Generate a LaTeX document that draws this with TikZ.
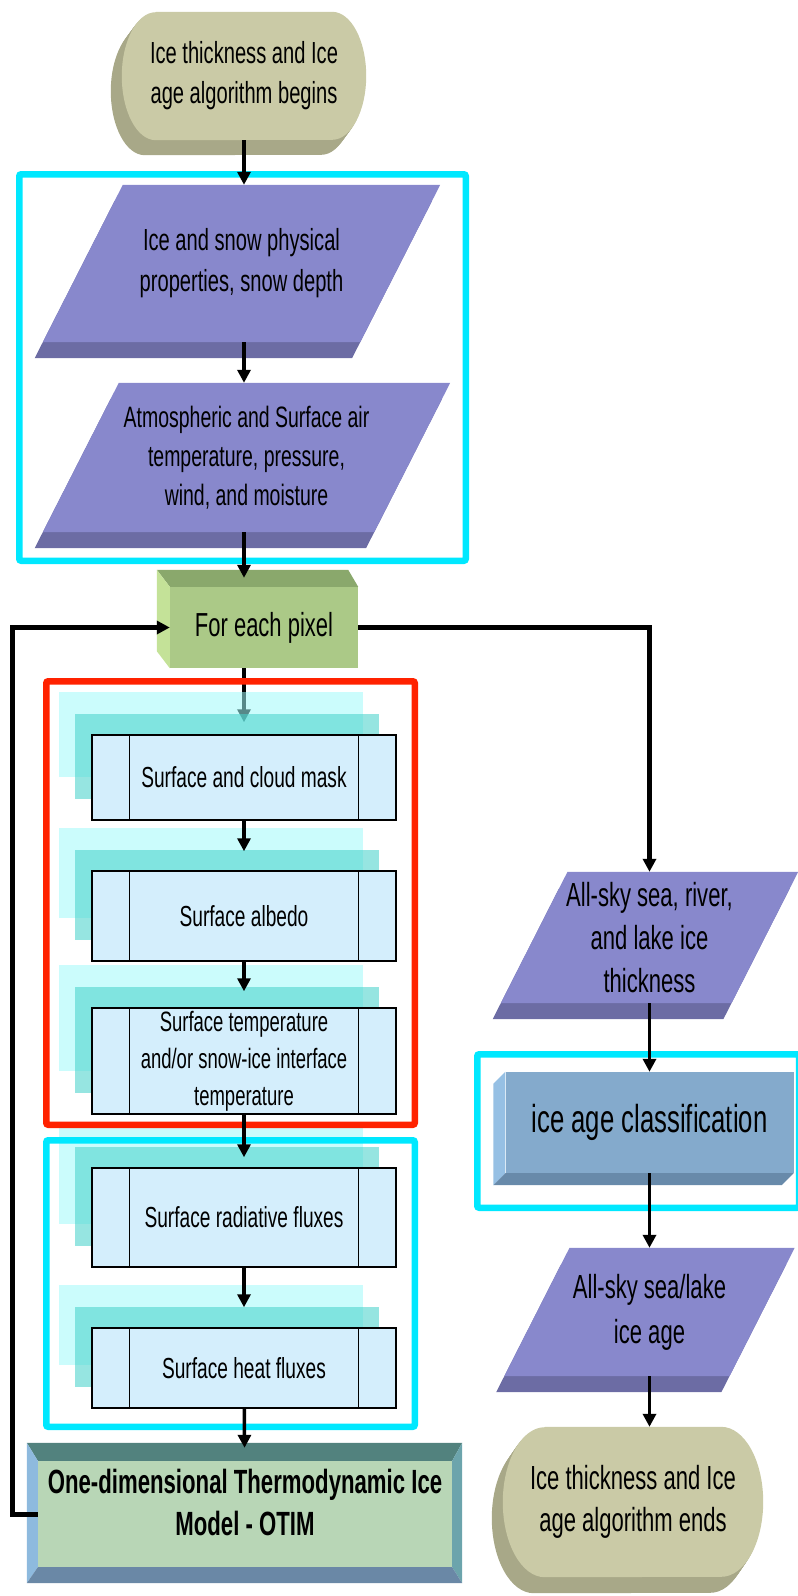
\documentclass[tikz,border=0pt]{standalone}
\usepackage{fontspec}
\setmainfont{Liberation Sans}[FakeStretch=0.66]
\usetikzlibrary{arrows.meta,shadows,backgrounds}

\definecolor{termfront}{RGB}{202,202,166}
\definecolor{termside}{RGB}{168,168,136}
\definecolor{iofront}{RGB}{136,136,204}
\definecolor{ioside}{RGB}{108,108,164}
\definecolor{pixfront}{RGB}{171,201,135}
\definecolor{pixtop}{RGB}{138,168,108}
\definecolor{pixleft}{RGB}{196,226,152}
\definecolor{procfill}{RGB}{212,238,252}
\definecolor{layerlight}{RGB}{160,250,250}
\definecolor{layerteal}{RGB}{74,211,204}
\definecolor{otimfront}{RGB}{184,214,182}
\definecolor{otimtop}{RGB}{82,130,126}
\definecolor{otimleft}{RGB}{142,186,222}
\definecolor{otimright}{RGB}{108,164,172}
\definecolor{otimbottom}{RGB}{106,136,166}
\definecolor{classfront}{RGB}{132,170,204}
\definecolor{classleft}{RGB}{150,192,228}
\definecolor{classbottom}{RGB}{104,138,170}
\definecolor{groupcyan}{RGB}{0,232,255}
\definecolor{groupred}{RGB}{255,34,0}

\tikzset{
  termpath/.style n args={3}{insert path={
    ([xshift=#2]#1.north west) -- ([xshift=-#2]#1.north east)
    arc[start angle=90, end angle=-90, x radius=#2, y radius=#3]
    -- ([xshift=#2]#1.south west)
    arc[start angle=-90, end angle=-270, x radius=#2, y radius=#3] -- cycle}},
  iopath/.style 2 args={insert path={
    ([xshift=#2]#1.north west) -- (#1.north east) -- ([xshift=-#2]#1.south east) -- (#1.south west) -- cycle}}
}

\begin{document}
\begin{tikzpicture}[
   x=1pt, y=-1pt,
   node distance=140pt,
   term/.style={rectangle, inner sep=0pt, align=center},
   io/.style={rectangle, inner sep=0pt, align=center},
   pix/.style={rectangle, fill=pixfront, minimum width=188pt, minimum height=81pt,
     font=\fontsize{33.3}{40}\selectfont},
   proc/.style={rectangle, draw, line width=1.5pt, fill=procfill, minimum width=304pt,
     inner sep=2pt, align=center, font=\fontsize{29}{36}\selectfont,
     general shadow={fill=layerlight, opacity=.55, shadow xshift=-33pt, shadow yshift=43pt},
     general shadow={fill=layerteal, opacity=.58, shadow xshift=-17pt, shadow yshift=21pt},
     path picture={
       \draw[line width=1.5pt]
         ([xshift=37.5pt]path picture bounding box.north west) -- ([xshift=37.5pt]path picture bounding box.south west)
         ([xshift=-37.5pt]path picture bounding box.north east) -- ([xshift=-37.5pt]path picture bounding box.south east);}},
   model/.style={rectangle, fill=otimfront, minimum width=414pt, minimum height=106pt,
     inner sep=0pt, text depth=23pt, align=center, font=\bfseries\fontsize{33.6}{42}\selectfont},
   classbox/.style={rectangle, fill=classfront, minimum width=288pt, minimum height=101pt,
     font=\fontsize{39}{46}\selectfont},
   arr/.style={-{Triangle[length=13pt,width=13pt]}, line width=3.5pt},
   loopline/.style={arr, line width=5pt},
   groupbox/.style={line width=6.5pt, rounded corners=2pt}
]
\useasboundingbox (0,0) rectangle (798,1596);

% Nodes
\node[term, minimum width=244pt, minimum height=128pt, font=\fontsize{30.5}{40}\selectfont]
  (start) at (244,76) {Ice thickness and Ice\\age algorithm begins};
\node[io, minimum width=397pt, minimum height=157pt, font=\fontsize{30.5}{41}\selectfont]
  (props) at (241.5,263.5) {Ice and snow physical\\properties, snow depth};
\node[io, minimum width=407pt, minimum height=149pt, font=\fontsize{29.5}{39}\selectfont]
  (atmos) at (246.5,457.5) {Atmospheric and Surface air\\temperature, pressure,\\wind, and moisture};
\node[pix] (pixel) at (264,627.5) {For each pixel};
\node[proc, minimum height=85pt] (mask) at (244,777.5) {Surface and cloud mask};
\node[proc, minimum height=90pt] (albedo) [below of=mask, node distance=138.5pt] {Surface albedo};
\node[proc, minimum height=106pt, font=\fontsize{28}{37}\selectfont] (tsurf) [below of=albedo, node distance=145pt]
  {Surface temperature\\and/or snow-ice interface\\temperature};
\node[proc, minimum height=99pt] (radflux) [below of=tsurf, node distance=156.5pt] {Surface radiative fluxes};
\node[proc, minimum height=80pt] (heatflux) [below of=radflux, node distance=150.5pt] {Surface heat fluxes};
\node[model] (otim) at (245,1514) {One-dimensional Thermodynamic Ice\\Model - OTIM};
\node[io, minimum width=297pt, minimum height=131pt, font=\fontsize{33.4}{43}\selectfont]
  (thick) at (649.5,937.5) {All-sky sea, river,\\and lake ice\\thickness};
\node[classbox] (agecls) [below of=thick, node distance=185pt] {ice age classification};
\node[io, minimum width=290pt, minimum height=128pt, font=\fontsize{33.4}{45}\selectfont]
  (age) [below of=agecls, node distance=189.5pt] {All-sky sea/lake\\ice age};
\node[term, minimum width=260pt, minimum height=150pt, font=\fontsize{33.4}{42}\selectfont]
  (finish) at (633,1502) {Ice thickness and Ice\\age algorithm ends};

% 3-D faces
\fill[pixtop] (pixel.north west) -- ++(-13,-17) -- ([shift={(-10,-17)}]pixel.north east) -- (pixel.north east) -- cycle;
\fill[pixleft] (pixel.north west) -- ++(-13,-17) -- ([shift={(-13,-17)}]pixel.south west) -- (pixel.south west) -- cycle;
\fill[classleft] (agecls.north west) -- ++(-12,12) -- ([shift={(-12,12)}]agecls.south west) -- (agecls.south west) -- cycle;
\fill[classbottom] (agecls.south west) -- ++(-12,12) -- ([shift={(-12,12)}]agecls.south east) -- (agecls.south east) -- cycle;
\fill[otimtop] (otim.north west) -- ++(-11,-18) -- ([shift={(10,-18)}]otim.north east) -- (otim.north east) -- cycle;
\fill[otimleft] (otim.north west) -- ++(-11,-18) -- ([shift={(-11,16)}]otim.south west) -- (otim.south west) -- cycle;
\fill[otimright] (otim.north east) -- ++(10,-18) -- ([shift={(10,16)}]otim.south east) -- (otim.south east) -- cycle;
\fill[otimbottom] (otim.south west) -- ++(-11,16) -- ([shift={(10,16)}]otim.south east) -- (otim.south east) -- cycle;

% terminals, parallelograms, and the first arrow under the layers
\begin{scope}[on background layer]
  \foreach \k in {1,...,8} {
    \fill[termside, transform canvas={shift={(-1.375pt*\k,-1.875pt*\k)}}, termpath={start}{34pt}{64pt}];
    \fill[termside, transform canvas={shift={(-1.375pt*\k,-2pt*\k)}}, termpath={finish}{42pt}{75pt}];
  }
  \fill[termfront, termpath={start}{34pt}{64pt}];
  \fill[termfront, termpath={finish}{42pt}{75pt}];
  \foreach \io/\dx in {props/80pt, atmos/76pt, thick/66.7pt, age/65.2pt} {
    \fill[ioside, transform canvas={shift={(-8.15pt,-16pt)}}, iopath={\io}{\dx}];
    \fill[iofront, iopath={\io}{\dx}];
  }
  \draw[arr, shorten >=12pt] (start.south |- pixel.south) -- (mask);
\end{scope}

% Groups
\draw[groupbox, groupcyan] (19.25,174.25) rectangle (465.75,560.75);
\draw[groupbox, groupred] (46.25,681.25) rectangle (414.75,1124.75);
\draw[groupbox, groupcyan] (46.25,1140.25) rectangle (414.75,1426.75);
\draw[groupbox, groupcyan] (477.25,1054.25) rectangle (799,1207.75);

% Edges
\draw[arr] (start.south) -- (start.south |- props.north);
\draw[arr] (start.south |- props.south) -- (start.south |- atmos.north);
\draw[arr, shorten >=9pt] (start.south |- atmos.south) -- (start.south |- pixel.north);
\draw[arr, shorten >=19pt] (mask) -- (albedo);
\draw[arr, shorten >=16pt] (albedo) -- (tsurf);
\draw[arr, shorten >=10pt] (tsurf) -- (radflux);
\draw[arr, shorten >=20pt] (radflux) -- (heatflux);
\draw[arr, shorten >=13pt] (heatflux) -- (otim);
\draw[loopline] (otim.west) -- ++(-25,0) |- (pixel.west);
\draw[loopline] (pixel.east) -| (thick.north);
\draw[arr] (thick.south) -- (thick.south |- agecls.north);
\draw[arr] (agecls.south) -- (agecls.south |- age.north);
\draw[arr] (age.south) -- (age.south |- finish.north);

\end{tikzpicture}
\end{document}
